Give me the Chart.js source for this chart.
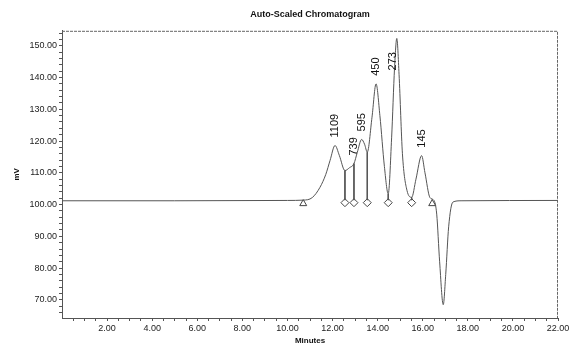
<!DOCTYPE html>
<html>
<head>
<meta charset="utf-8">
<script src="https://cdn.jsdelivr.net/npm/chart.js@4.4.1/dist/chart.umd.min.js"></script>
<style>
  html, body { margin: 0; padding: 0; background: #fff; }
  #wrap { width: 581px; height: 346px; position: relative; }
</style>
</head>
<body>
<div id="wrap"><canvas id="chrom"></canvas></div>
<script>
// detector trace (minutes, mV)
const traceTimes = [0, 5, 10.0, 10.7, 11.1, 11.44, 11.7, 11.89, 12.11, 12.3, 12.55, 12.75, 12.95, 13.1, 13.29, 13.42, 13.54, 13.75, 13.93, 14.1, 14.3, 14.47, 14.62, 14.75, 14.85, 14.95, 15.1, 15.3, 15.51, 15.7, 15.95, 16.1, 16.32, 16.5, 16.62, 16.75, 16.91, 17.02, 17.15, 17.34, 17.7, 22];
const traceValues = [101.2, 101.2, 101.3, 101.4, 102.2, 105.4, 109.5, 113.9, 118.6, 115.5, 110.7, 111.6, 112.9, 116.5, 120.5, 119.0, 116.5, 127.5, 138.0, 128.0, 112.0, 103.4, 121.0, 143.0, 152.3, 141.0, 116.0, 104.5, 102.3, 108.0, 115.4, 110.0, 102.2, 101.3, 97.0, 82.0, 68.5, 78.0, 93.0, 100.8, 101.2, 101.3];

// peak labels
const peakNames = ["1109", "739", "595", "450", "273", "145"];
const peakTimes = [12.11, 12.95, 13.29, 13.93, 14.85, 15.95];
const peakValues = [118.6, 112.9, 120.5, 138.0, 152.3, 115.4];

// integration marks on the baseline
const startEndTimes = [10.7, 16.42];
const startEndValues = [100.3, 100.3];
const valleyTimes = [12.55, 12.95, 13.54, 14.47, 15.51];
const valleyValues = [100.6, 100.6, 100.6, 100.6, 100.6];
const dropTops = [110.7, 112.9, 116.5, 103.4, 102.3];
const dropBase = 101.4;

// axes
const xTickLabels = [2, 4, 6, 8, 10, 12, 14, 16, 18, 20, 22];
const yTickLabels = [70, 80, 90, 100, 110, 120, 130, 140, 150];

const tracePoints = traceTimes.map((t, i) => ({ x: t, y: traceValues[i] }));
const dropPoints = [];
valleyTimes.forEach((t, i) => {
    dropPoints.push({ x: t, y: dropTops[i] }, { x: t, y: dropBase }, { x: t, y: null });
});

const frame = {
    id: 'frame',
    afterDatasetsDraw(chart) {
        const a = chart.chartArea, ctx = chart.ctx;
        ctx.save();
        ctx.strokeStyle = '#666';
        ctx.lineWidth = 1;
        ctx.setLineDash([3, 1]);
        ctx.beginPath();
        ctx.moveTo(a.left, a.top + 0.5);
        ctx.lineTo(a.right - 0.5, a.top + 0.5);
        ctx.lineTo(a.right - 0.5, a.bottom);
        ctx.stroke();
        ctx.restore();
    }
};

const peakTags = {
    id: 'peakTags',
    afterDatasetsDraw(chart) {
        const xs = chart.scales.x, ys = chart.scales.y, ctx = chart.ctx;
        ctx.save();
        ctx.font = '11px "Liberation Sans", Arial, sans-serif';
        ctx.fillStyle = '#111';
        ctx.textBaseline = 'middle';
        ctx.textAlign = 'left';
        peakNames.forEach((name, i) => {
            let px = xs.getPixelForValue(peakTimes[i]);
            let py = ys.getPixelForValue(peakValues[i]) - 8;
            const w = ctx.measureText(name).width;
            if (py - w < chart.chartArea.top + 10) {
                // too tall: tuck label beside the peak line
                px -= 4;
                py = ys.getPixelForValue(peakValues[i]) + 32;
            }
            ctx.save();
            ctx.translate(px, py);
            ctx.rotate(-Math.PI / 2);
            ctx.fillText(name, 0, 0);
            ctx.restore();
        });
        ctx.restore();
    }
};

const tickFont = { family: '"Liberation Sans", Arial, sans-serif', size: 9 };

new Chart(document.getElementById('chrom'), {
    type: 'line',
    data: {
        datasets: [{
            data: tracePoints,
            borderColor: '#555',
            borderWidth: 1,
            pointRadius: 0,
            cubicInterpolationMode: 'monotone'
        }, {
            data: dropPoints,
            borderColor: '#555',
            borderWidth: 1,
            pointRadius: 0,
            spanGaps: false
        }, {
            type: 'scatter',
            data: startEndTimes.map((t, i) => ({ x: t, y: startEndValues[i] })),
            pointStyle: 'triangle',
            pointRadius: 4,
            borderColor: '#444',
            borderWidth: 1,
            backgroundColor: '#fff'
        }, {
            type: 'scatter',
            data: valleyTimes.map((t, i) => ({ x: t, y: valleyValues[i] })),
            pointStyle: 'rectRot',
            pointRadius: 4,
            borderColor: '#444',
            borderWidth: 1,
            backgroundColor: '#fff'
        }]
    },
    plugins: [frame, peakTags],
    options: {
        responsive: true,
        maintainAspectRatio: false,
        animation: false,
        layout: { padding: { top: 0, right: 23, bottom: 0, left: 0 } },
        plugins: {
            legend: { display: false },
            tooltip: { enabled: false },
            title: {
                display: true,
                fullSize: false,
                text: 'Auto-Scaled Chromatogram',
                color: '#111',
                font: { family: '"Liberation Sans", Arial, sans-serif', size: 9, weight: 'bold' },
                padding: { top: 9, bottom: 11 }
            }
        },
        scales: {
            x: {
                type: 'linear',
                min: 0,
                max: 22,
                afterBuildTicks(scale) {
                    const t = [];
                    for (let v = 0.5; v <= 22; v += 0.5) t.push({ value: v });
                    scale.ticks = t;
                },
                afterFit(scale) { scale.height = 28; },
                ticks: {
                    autoSkip: false,
                    maxRotation: 0,
                    padding: 2,
                    color: '#222',
                    font: tickFont,
                    callback: v => xTickLabels.includes(v) ? v.toFixed(2) : ''
                },
                grid: { drawOnChartArea: false, tickLength: 3, color: '#555' },
                border: { color: '#555', dash: [3, 1] },
                title: {
                    display: true,
                    text: 'Minutes',
                    color: '#111',
                    font: { family: '"Liberation Sans", Arial, sans-serif', size: 8, weight: 'bold' },
                    padding: { top: 0, bottom: 0 }
                }
            },
            y: {
                min: 64.3,
                max: 154.7,
                afterBuildTicks(scale) {
                    const t = [];
                    for (let v = 66; v <= 154; v += 2) t.push({ value: v });
                    scale.ticks = t;
                },
                afterFit(scale) { scale.width = 62; },
                ticks: {
                    autoSkip: false,
                    padding: 2,
                    color: '#222',
                    font: tickFont,
                    callback: v => yTickLabels.includes(v) ? v.toFixed(2) : ''
                },
                grid: { drawOnChartArea: false, tickLength: 3, color: '#555' },
                border: { color: '#555', dash: [3, 1] },
                title: {
                    display: true,
                    text: 'mV',
                    color: '#111',
                    font: { family: '"Liberation Sans", Arial, sans-serif', size: 8, weight: 'bold' },
                    padding: { top: 12, bottom: 0 }
                }
            }
        }
    }
});
</script>
</body>
</html>
